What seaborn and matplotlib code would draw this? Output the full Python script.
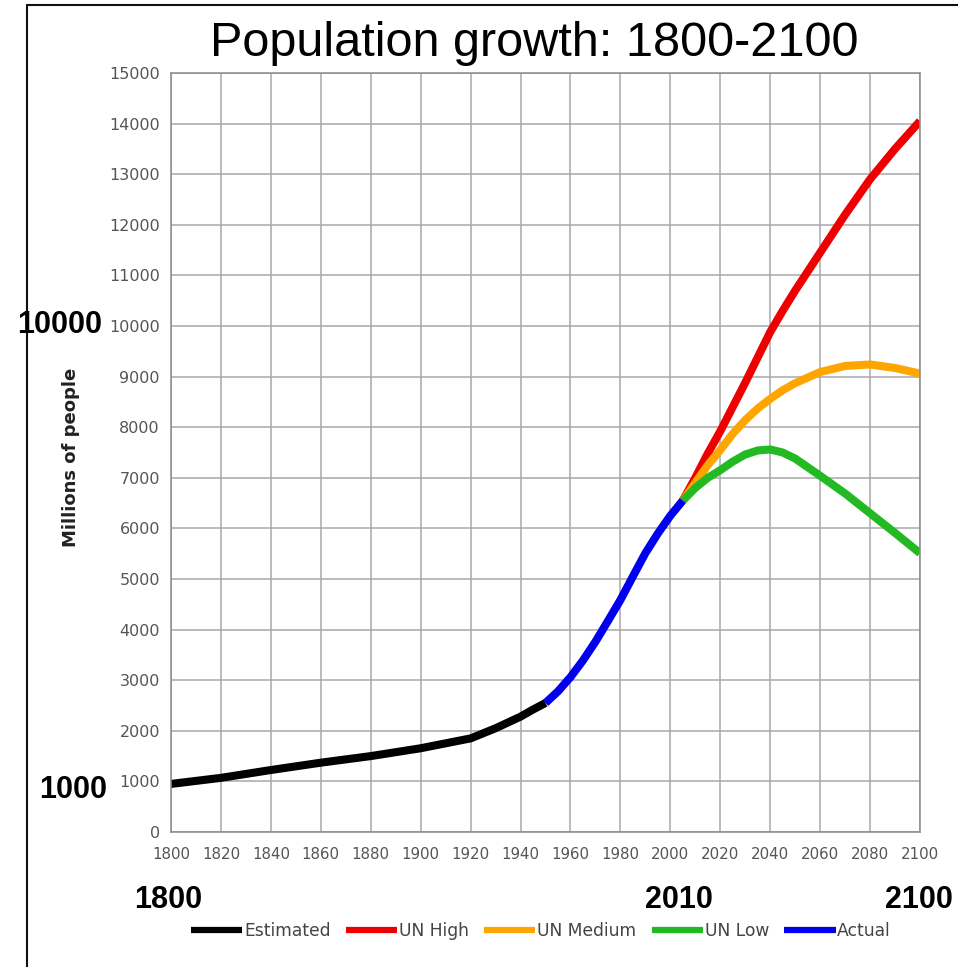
import matplotlib
matplotlib.use("Agg")
import matplotlib.pyplot as plt
from matplotlib.lines import Line2D
import seaborn as sns
import pandas as pd

# values (millions of people)
years_est = [1800, 1820, 1840, 1860, 1880, 1900, 1920, 1930, 1940, 1945, 1950]
pop_est = [950, 1070, 1225, 1370, 1500, 1655, 1850, 2050, 2280, 2420, 2550]

years_act = [1950, 1955, 1960, 1965, 1970, 1975, 1980, 1985, 1990, 1995, 2000, 2005]
pop_act = [2550, 2780, 3060, 3390, 3760, 4170, 4585, 5050, 5510, 5900, 6250, 6550]

years_proj = [2005, 2010, 2015, 2020, 2025, 2030, 2035, 2040, 2045, 2050,
              2060, 2070, 2080, 2090, 2100]
pop_high = [6550, 7000, 7480, 7920, 8400, 8880, 9380, 9880, 10300, 10700,
            11450, 12200, 12900, 13500, 14050]
pop_med = [6550, 6900, 7250, 7550, 7870, 8140, 8370, 8560, 8730, 8870,
           9090, 9210, 9240, 9170, 9060]
pop_low = [6550, 6800, 7000, 7150, 7320, 7460, 7540, 7560, 7500, 7380,
           7040, 6690, 6300, 5910, 5510]

series = ["Estimated", "UN High", "UN Medium", "UN Low", "Actual"]
colors = ["#000000", "#ee0000", "#ffa500", "#22b922", "#0000ee"]

x_ticks = list(range(1800, 2101, 20))
y_ticks = list(range(0, 15001, 1000))

title = "Population growth: 1800-2100"
ylabel = "Millions of people"
big_labels = [("10000", 60, 325), ("1000", 73, 790),
              ("1800", 168, 900), ("2010", 679, 900), ("2100", 919, 900)]

# long table for seaborn
parts = [
    pd.DataFrame({"year": years_est, "pop": pop_est, "series": "Estimated"}),
    pd.DataFrame({"year": years_proj, "pop": pop_high, "series": "UN High"}),
    pd.DataFrame({"year": years_proj, "pop": pop_med, "series": "UN Medium"}),
    pd.DataFrame({"year": years_proj, "pop": pop_low, "series": "UN Low"}),
    pd.DataFrame({"year": years_act, "pop": pop_act, "series": "Actual"}),
]
df = pd.concat(parts, ignore_index=True)

sns.set_style("white")
plt.rcParams["font.family"] = ["DejaVu Sans"]

W, H = 958, 967
fig = plt.figure(figsize=(W / 100, H / 100), dpi=100)
ax = fig.add_axes([171 / W, 1 - 832 / H, (920 - 171) / W, (832 - 73) / H])

sns.lineplot(data=df, x="year", y="pop", hue="series", hue_order=series,
             palette=dict(zip(series, colors)), linewidth=5.8, ax=ax, legend=False)
for ln in ax.get_lines():
    ln.set_solid_capstyle("butt")
    ln.set_solid_joinstyle("round")

ax.set_xlim(1800, 2100)
ax.set_ylim(0, 15000)
ax.set_xticks(x_ticks)
ax.set_yticks(y_ticks)
ax.set_xticklabels([str(t) for t in x_ticks])
ax.set_yticklabels([str(t) for t in y_ticks])
ax.grid(True, color="#a8a8a8", linewidth=1.1)
ax.set_axisbelow(True)
for sp in ax.spines.values():
    sp.set_color("#8a8a8a")
    sp.set_linewidth(1.1)
ax.tick_params(axis="both", length=4, width=1, color="#8a8a8a",
               labelcolor="#555555", direction="out")
ax.tick_params(axis="x", pad=7, labelsize=10.8)
ax.tick_params(axis="y", pad=4, labelsize=11.5)
ax.set_xlabel("")
ax.set_ylabel("")

fig.text(534.5 / W, 1 - 44 / H, title, ha="center", va="center",
         fontsize=35, family="Liberation Sans", color="#000000")
fig.text(71 / W, 1 - 457 / H, ylabel, ha="center", va="center", rotation=90,
         fontsize=13, fontweight="bold", color="#222222")

for txt, px, py in big_labels:
    fig.text(px / W, 1 - py / H, txt, ha="center", va="center", fontsize=22,
             fontweight="bold", family="Liberation Sans", color="#000000")

handles = [Line2D([0], [0], color=c, linewidth=4.5, solid_capstyle="butt") for c in colors]
fig.legend(handles, series, loc="center", bbox_to_anchor=(541 / W, 1 - 931 / H),
           ncol=5, frameon=False, handlelength=3, handletextpad=0.1,
           columnspacing=0.9, fontsize=12.3, labelcolor="#444444")

# outer frame of the original picture
fig.add_artist(Line2D([27 / W, 27 / W], [0, 1 - 5 / H], color="#111111", linewidth=1.5))
fig.add_artist(Line2D([27 / W, 1], [1 - 5 / H, 1 - 5 / H], color="#111111", linewidth=1.5))

fig.savefig("out.png", dpi=100)
